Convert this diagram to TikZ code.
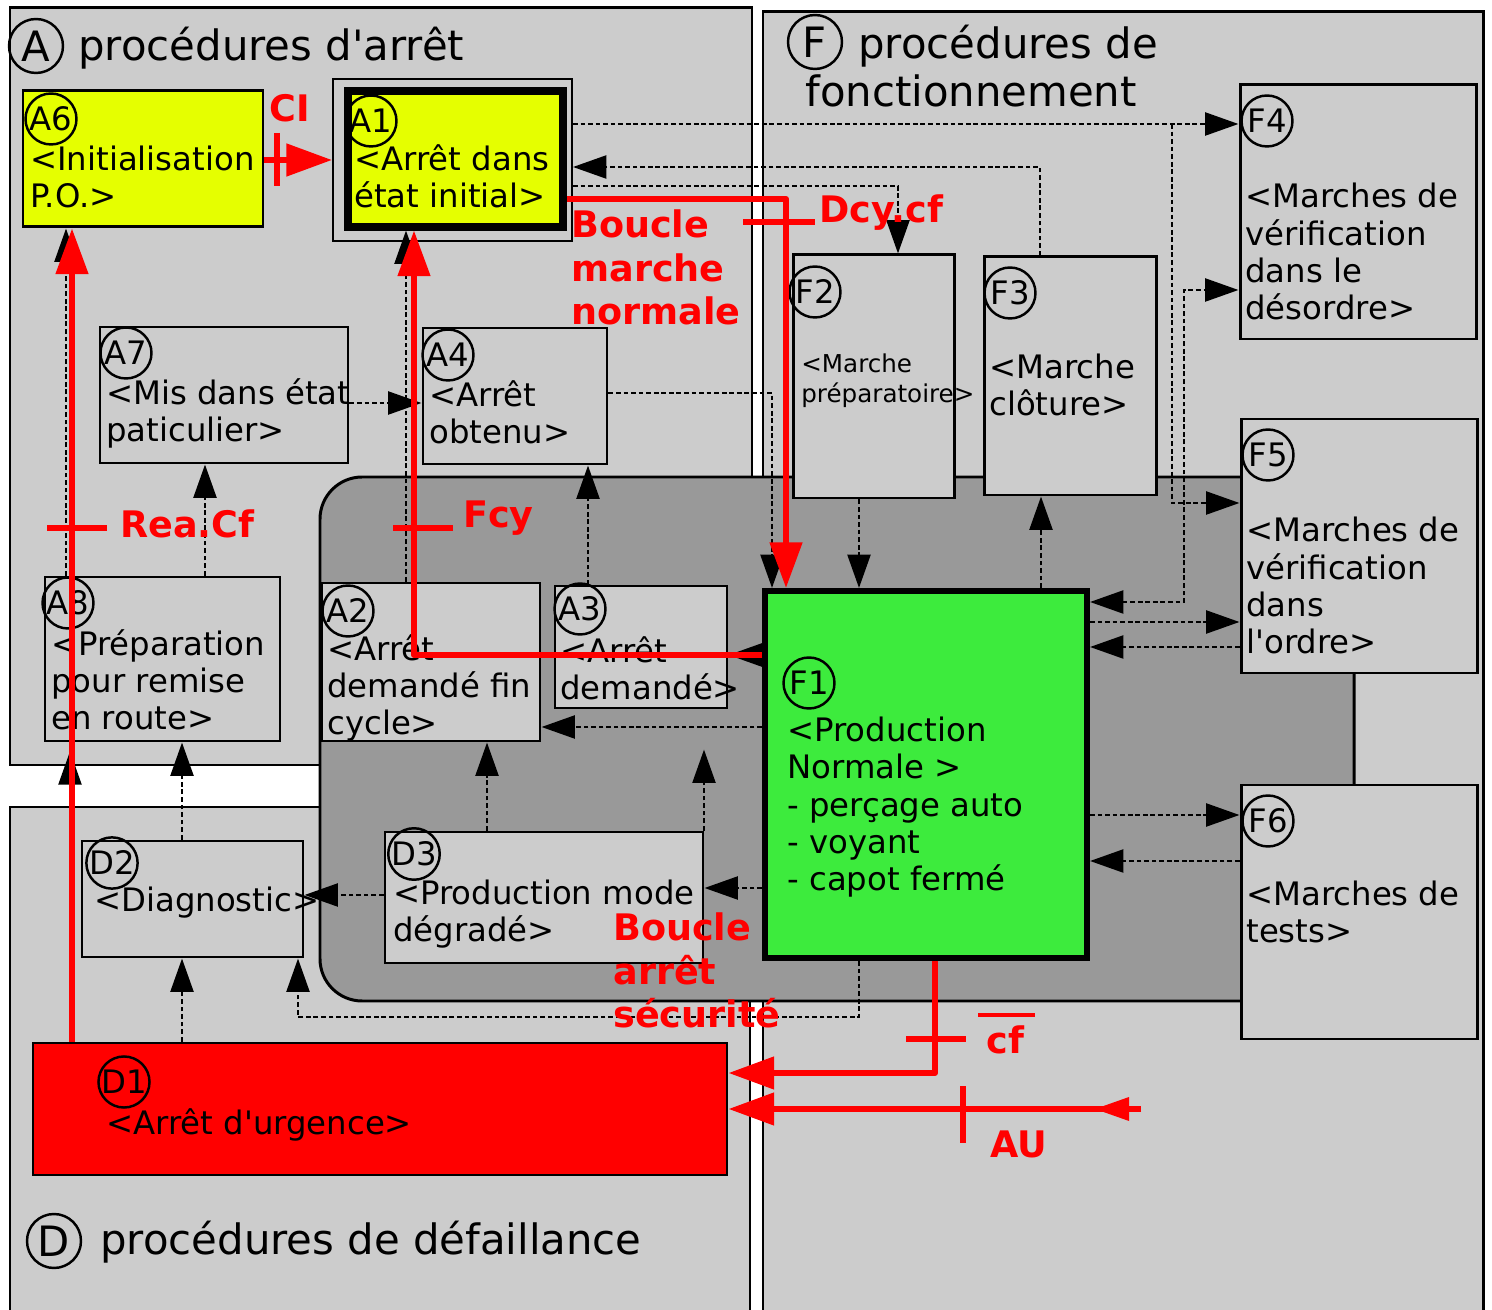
\documentclass[tikz,border=0pt]{standalone}
\usepackage{fontspec}
\setmainfont{DejaVu Sans}[Ligatures=TeXOff]
\usetikzlibrary{arrows.meta, fit}
\definecolor{grisclair}{RGB}{204,204,204}
\definecolor{grisfonce}{RGB}{153,153,153}
\definecolor{jaune}{RGB}{229,255,0}
\definecolor{vertF}{RGB}{61,235,61}
\definecolor{rougeG}{RGB}{255,0,0}
\newcommand{\txtsize}{\fontsize{18.4}{21.3}\selectfont}
\newcommand{\titresize}{\fontsize{23.8}{27.5}\selectfont}
\newcommand{\petitsize}{\fontsize{14}{17.6}\selectfont}
\newcommand{\rougesize}{\bfseries\fontsize{20.8}{24.8}\selectfont}
\tikzset{
    pointe/.tip={Triangle[length=19pt, width=13pt]},
    grossepointe/.tip={Triangle[length=26pt, width=18pt]}
}

\begin{document}
\begin{tikzpicture}[x=0.02cm, y=-0.02cm,
    zone/.style={draw, line width=1.7pt, fill=grisclair},
    boite/.style={draw, line width=1.7pt, fill=grisclair, inner sep=0pt},
    rond/.style={circle, draw, line width=1.4pt, inner sep=0pt, minimum size=1.02cm, font=\txtsize},
    grandrond/.style={circle, draw, line width=1.4pt, inner sep=0pt, minimum size=1.08cm, font=\titresize},
    txt/.style={anchor=base west, inner sep=0pt, align=left, font=\txtsize},
    titre/.style={anchor=base west, inner sep=0pt, font=\titresize},
    rtxt/.style={anchor=base west, inner sep=0pt, align=left, text=rougeG, font=\rougesize},
    lien/.style={line width=1.6pt, dash pattern=on 2.7pt off 1.6pt, -pointe},
    rfl/.style={rougeG, line width=3.4pt, line join=round, -grossepointe},
    rtrait/.style={rougeG, line width=3.4pt}
]
\useasboundingbox (0,0) rectangle (1492,1310);
\fill[white] (0,0) rectangle (1492,1310);

% zones A, F, D
\draw[zone] (10,8) rectangle (752,765);
\draw[zone] (763,12) rectangle (1483,1330);
\draw[zone] (10,807) rectangle (750,1330);
\draw[zone, fill=grisfonce, rounded corners=24pt] (320,477) rectangle (1354,1001);

\node[grandrond] (cA) at (36,46) {A};
\node[titre] (tA) at (78,61) {procédures d'arrêt};
\node[grandrond] (cF) at (815,42) {F};
\node[titre] (tF1) at (858,59) {procédures de};
\node[titre] (tF2) at (805,107) {fonctionnement};
\node[grandrond] (cD) at (54,1241) {D};
\node[titre] (tD) at (100,1254) {procédures de défaillance};

% etats (texte place par la ligne du bas)
\node[boite, fill=jaune, fit={(23,91)(263,227)}] (A6) {};
\node[boite, line width=1.1pt, fit={(333,79)(572,241)}] (A1o) {};
\node[boite, fill=jaune, line width=4pt, fit={(348,91)(563,227)}] (A1) {};
\node[boite, fit={(100,327)(348,463)}] (A7) {};
\node[boite, fit={(423,328)(607,464)}] (A4) {};
\node[boite, fit={(45,577)(280,741)}] (A8) {};
\node[boite, fit={(322,583)(540,741)}] (A2) {};
\node[boite, fit={(555,586)(727,708)}] (A3) {};
\node[boite, fit={(793,255)(954,498)}] (F2) {};
\node[boite, fit={(984,257)(1156,495)}] (F3) {};
\node[boite, fit={(1240,85)(1476,339)}] (F4) {};
\node[boite, fit={(1241,419)(1477,673)}] (F5) {};
\node[boite, fit={(1241,785)(1477,1039)}] (F6) {};
\node[boite, fill=vertF, line width=3.4pt, fit={(765,591)(1087,958)}] (F1) {};
\node[boite, fit={(82,841)(303,957)}] (D2) {};
\node[boite, fit={(385,832)(703,963)}] (D3) {};
\node[boite, fill=rougeG, fit={(33,1043)(727,1175)}] (D1) {};

\node[rond] (cA6) at (51,119) {A6};
\node[txt] (tA6) at (30,208) {<Initialisation\\P.O.>};
\node[rond] (cA1) at (371,121) {A1};
\node[txt] (tA1) at (354,208) {<Arrêt dans\\état initial>};
\node[rond] (cA7) at (126,353) {A7};
\node[txt] (tA7) at (106,442) {<Mis dans état\\paticulier>};
\node[rond] (cA4) at (448,355) {A4};
\node[txt] (tA4) at (429,444) {<Arrêt\\obtenu>};
\node[rond] (cA8) at (68,603) {A8};
\node[txt] (tA8) at (51,730) {<Préparation\\pour remise\\en route>};
\node[rond] (cA2) at (348,611) {A2};
\node[txt] (tA2) at (327,735) {<Arrêt\\demandé fin\\cycle>};
\node[rond] (cA3) at (580,609) {A3};
\node[txt] (tA3) at (560,700) {<Arrêt\\demandé>};
\node[rond] (cF2) at (815,292) {F2};
\node[txt, font=\petitsize] (tF2b) at (801,403) {<Marche\\préparatoire>};
\node[rond] (cF3) at (1010,293) {F3};
\node[txt] (tF3) at (989,416) {<Marche\\clôture>};
\node[rond] (cF4) at (1267,121) {F4};
\node[txt] (tF4) at (1245,320) {<Marches de\\vérification\\dans le\\désordre>};
\node[rond] (cF5) at (1268,455) {F5};
\node[txt] (tF5) at (1246,654) {<Marches de\\vérification\\dans\\l'ordre>};
\node[rond] (cF6) at (1268,821) {F6};
\node[txt] (tF6) at (1246,943) {<Marches de\\tests>};
\node[rond] (cF1) at (809,683) {F1};
\node[txt] (tF1b) at (787,891) {<Production\\Normale >\\- perçage auto\\- voyant\\- capot fermé};
\node[rond] (cD2) at (112,863) {D2};
\node[txt] (tD2) at (94,912) {<Diagnostic>};
\node[rond] (cD3) at (414,854) {D3};
\node[txt] (tD3) at (393,942) {<Production mode\\dégradé>};
\node[rond] (cD1) at (124,1082) {D1};
\node[txt] (tD1) at (106,1134) {<Arrêt d'urgence>};

% liaisons
\coordinate (jF4) at (1172,124);
\draw[lien] (A1o.east |- 0,124) -- (F4.west |- 0,124);
\draw[lien] (jF4) |- (F5.west |- 0,503);
\draw[lien, pointe-pointe] (F1.east |- 0,602) -| (1184,290) -- (F4.west |- 0,290);
\draw[lien] (F3.north -| 1040,0) |- (A1o.east |- 0,167);
\draw[lien] (A1o.east |- 0,186) -| (F2.north -| 898,0);
\draw[lien] (A4.east |- 0,393) -| (F1.north -| 772,0);
\draw[lien] (F2.south -| 859,0) -- (F1.north -| 859,0);
\draw[lien] (F1.north -| 1041,0) -- (F3.south -| 1041,0);
\draw[lien] (F1.east |- 0,622) -- (F5.west |- 0,622);
\draw[lien] (F5.west |- 0,647) -- (F1.east |- 0,647);
\draw[lien] (F1.east |- 0,815) -- (F6.west |- 0,815);
\draw[lien] (F6.west |- 0,861) -- (F1.east |- 0,861);
\draw[lien] (F1.west |- 0,655) -- (A3.east |- 0,655);
\draw[lien] (F1.west |- 0,727) -- (A2.east |- 0,727);
\draw[lien] (F1.west |- 0,888) -- (D3.east |- 0,888);
\draw[lien] (D3.west |- 0,895) -- (D2.east |- 0,895);
\draw[lien] (D3.north -| 487,0) -- (A2.south -| 487,0);
\draw[lien, shorten >=22.8pt] (D3.north -| 704,0) -- (A3.south -| 704,0);
\draw[lien] (D1.north -| 182,0) -- (D2.south -| 182,0);
\draw[lien] (F1.south -| 859,0) -- (859,1017) -| (D2.south -| 298,0);
\draw[lien] (D2.north -| 182,0) -- (A8.south -| 182,0);
\draw[lien] (A8.north -| 205,0) -- (A7.south -| 205,0);
\draw[lien] (A7.east |- 0,403) -- (A4.west |- 0,403);
\draw[lien] (A2.north -| 406,0) -- (A1.south -| 406,0);
\draw[lien] (A8.north -| 66,0) -- (A6.south -| 66,0);
\draw[lien, shorten >=5pt] (D1.north -| 70,0) -- (A8.south -| 70,0);
\draw[lien] (A3.north -| 588,0) -- (A4.south -| 588,0);

% boucles en rouge
\draw[rfl] (A6.east |- 0,160) -- (A1o.west |- 0,160);
\draw[rtrait] (277,133) -- (277,186);
\node[rtxt] (CI) at (269,122) {CI};

\draw[rfl] (D1.north -| 72,0) -- (A6.south -| 72,0);
\draw[rtrait] (47,528) -- (107,528);
\node[rtxt] (rea) at (120,538) {Rea.Cf};

\draw[rfl] (F1.west |- 0,655) -| (A1.south -| 414,0);
\draw[rtrait] (393,528) -- (453,528);
\node[rtxt] (fcy) at (463,528) {Fcy};

\draw[rfl] (A1.east |- 0,199) -| (F1.north -| 786,0);
\draw[rtrait] (743,222) -- (815,222);
\node[rtxt] (dcy) at (819,223) {Dcy.cf};
\node[rtxt] (bmn) at (571,325) {Boucle\\marche\\normale};

\draw[rfl] (F1.south -| 935,0) |- (D1.east |- 0,1073);
\draw[rtrait] (906,1039) -- (966,1039);
\node[rtxt] (cf) at (986,1053) {cf};
\draw[rougeG, line width=2pt] ([xshift=-4.5pt, yshift=5.5pt]cf.north west) -- ([xshift=6pt, yshift=5.5pt]cf.north east);

\coordinate (AU) at (1141,1109);
\draw[rfl] (AU) -- (D1.east |- 0,1109);
\fill[rougeG] (1095,1109) -- (1129,1097) -- (1129,1121) -- cycle;
\draw[rtrait] (963,1086) -- (963,1143);
\node[rtxt] (au) at (990,1157) {AU};
\node[rtxt] (bas) at (613,1028) {Boucle\\arrêt\\sécurité};
\end{tikzpicture}
\end{document}
